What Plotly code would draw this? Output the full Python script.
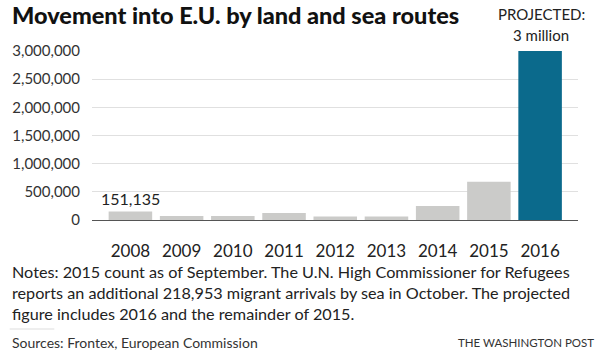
import plotly.graph_objects as go

years = ["2008", "2009", "2010", "2011", "2012", "2013", "2014", "2015", "2016"]
arrivals = [151135, 72000, 72000, 125000, 63000, 63000, 250000, 680000, 3000000]
bar_colors = ["#cbcbc9"] * 8 + ["#0b6a8c"]
y_ticks = [0, 500000, 1000000, 1500000, 2000000, 2500000, 3000000]
y_tick_labels = ["0", "500,000", "1,000,000", "1,500,000", "2,000,000", "2,500,000", "3,000,000"]

W, H = 600, 351
L, R = 88, 578
T, B = 51, 220

def px(x):
    return (x - L) / (R - L)

def py(y):
    return (B - y) / (B - T)

FONT = "Lato, Liberation Sans, Arial, sans-serif"
TXT = "#222222"

fig = go.Figure(go.Bar(
    x=list(range(len(years))), y=arrivals, marker=dict(color=bar_colors, line=dict(width=0)),
    width=0.85, hoverinfo="skip"))

fig.update_layout(
    width=W, height=H, margin=dict(l=L, r=W - R, t=T, b=H - B),
    paper_bgcolor="white", plot_bgcolor="white", showlegend=False,
    font=dict(family=FONT, color=TXT),
    xaxis=dict(tickmode="array", tickvals=list(range(len(years))), ticktext=years,
               range=[-0.75, 8.74], showgrid=False, zeroline=False,
               showline=True, linecolor="#555555", linewidth=1,
               ticks="outside", ticklen=16, tickcolor="rgba(0,0,0,0)",
               tickfont=dict(size=17, family=FONT, color=TXT)),
    yaxis=dict(tickmode="array", tickvals=y_ticks, ticktext=y_tick_labels,
               range=[0, 3000000], showgrid=True, gridcolor="#e0e0e0", gridwidth=1,
               zeroline=False, showline=False,
               ticks="outside", ticklen=8, tickcolor="rgba(0,0,0,0)",
               tickfont=dict(size=15, family=FONT, color="#333333")),
)

ann = []
ann.append(dict(text="Movement into E.U. by land and sea routes", x=px(5), y=py(15),
                xanchor="left", yanchor="middle",
                font=dict(size=23.5, family=FONT, color="#111", weight=900)))
ann.append(dict(text="PROJECTED:", x=px(541), y=py(14), xanchor="center", yanchor="middle",
                font=dict(size=15, family=FONT, color=TXT)))
ann.append(dict(text="3 million", x=px(541), y=py(35), xanchor="center", yanchor="middle",
                font=dict(size=15, family=FONT, color=TXT)))
ann.append(dict(text="151,135", x=0, xref="x", y=arrivals[0], yref="y", yshift=13,
                xanchor="center", yanchor="middle",
                font=dict(size=16, family=FONT, color=TXT)))
notes = ["Notes: 2015 count as of September. The U.N. High Commissioner for Refugees",
         "reports an additional 218,953 migrant arrivals by sea in October. The projected",
         "figure includes 2016 and the remainder of 2015."]
for i, line in enumerate(notes):
    ann.append(dict(text=line, x=px(5), y=py(271 + 21 * i), xanchor="left", yanchor="middle",
                    font=dict(size=16.2, family=FONT, color=TXT)))
ann.append(dict(text="Sources: Frontex, European Commission", x=px(5), y=py(342),
                xanchor="left", yanchor="middle", font=dict(size=14, family=FONT, color="#333")))
ann.append(dict(text="THE WASHINGTON POST", x=px(596), y=py(342),
                xanchor="right", yanchor="middle", font=dict(size=11.5, family=FONT, color="#333")))
for a in ann:
    a.setdefault("xref", "paper")
    a.setdefault("yref", "paper")
    a["showarrow"] = False
fig.update_layout(annotations=ann)

fig.add_shape(type="line", xref="paper", yref="paper", x0=px(5), x1=px(50), y0=py(329), y1=py(329),
              line=dict(color="#dddddd", width=1))

fig.write_html("out.html")
